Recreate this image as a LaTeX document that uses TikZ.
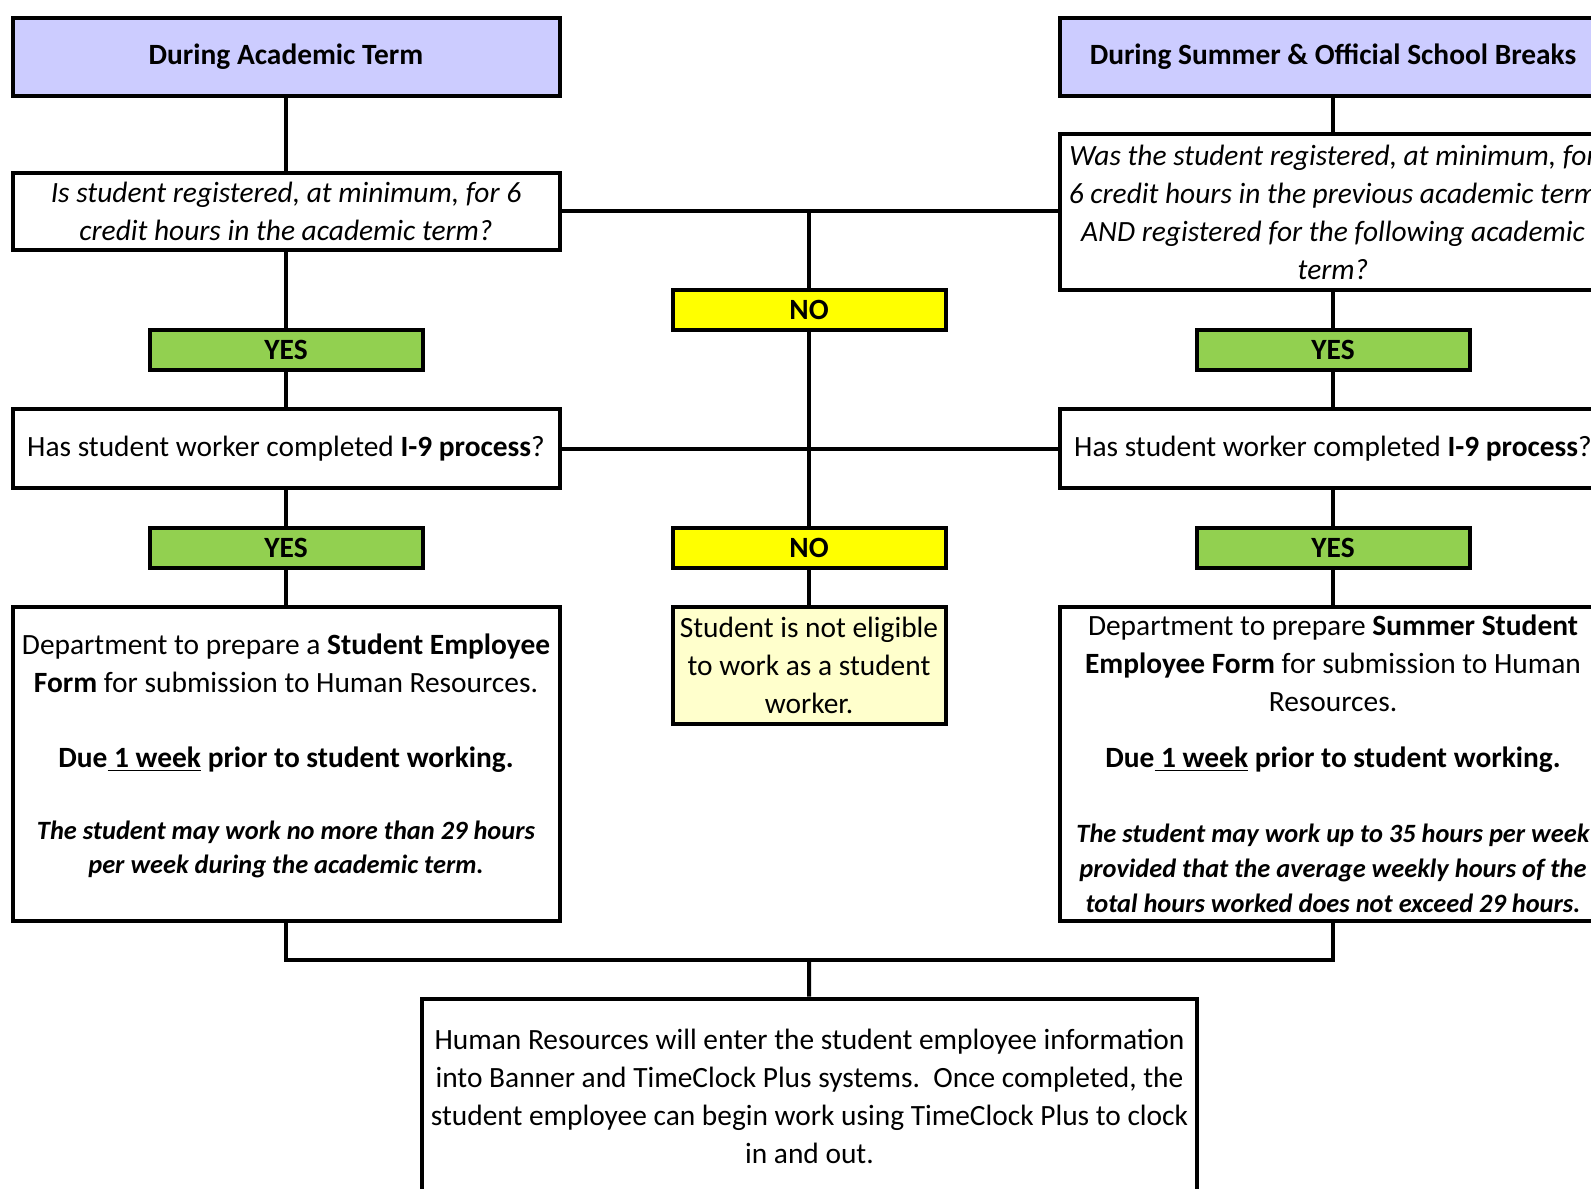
\documentclass[tikz,border=0pt]{standalone}
\usepackage{fontspec}
\setmainfont{Carlito}
\usetikzlibrary{positioning}
\definecolor{hdrblue}{HTML}{CCCCFF}
\definecolor{yesgreen}{HTML}{92D050}
\definecolor{noyellow}{HTML}{FFFF00}
\definecolor{paleyellow}{HTML}{FFFFCC}
\newcommand{\bodyfont}{\fontsize{14.7}{19}\selectfont}
\newcommand{\notefont}{\fontsize{13.2}{17.3}\selectfont\bfseries\itshape}

\begin{document}
\begin{tikzpicture}[x=0.5pt, y=-0.5pt, line width=2pt,
	box/.style={draw, fill=white, inner sep=0pt, align=center, minimum width=273.5pt, font=\bodyfont},
	hdr/.style={box, fill=hdrblue, minimum height=39pt, font=\bodyfont\bfseries},
	tag/.style={box, minimum width=136.5pt, minimum height=20pt, font=\bodyfont\bfseries},
	yesbox/.style={tag, fill=yesgreen},
	nobox/.style={tag, fill=noyellow}]
	\useasboundingbox (0,0) rectangle (1591,1189);
	\clip (0,0) rectangle (1591,1189);
	
	% headers
	\node[hdr] (hdrL) at (286, 57) {During Academic Term};
	\node[hdr] (hdrR) at (1333, 57) {During Summer \& Official School Breaks};
	
	% credit hours
	\node[box, minimum height=38.5pt, font=\bodyfont\itshape] (qL) at (286, 211)
		{Is student registered, at minimum, for 6\\ credit hours in the academic term?};
	\node[box, minimum height=78pt, font=\bodyfont\itshape] (qR) at (1333, 212)
		{Was the student registered, at minimum, for\\ 6 credit hours in the previous academic term\\
		 AND registered for the following academic\\ term?};
	
	\node[nobox] (no1) at (809, 310) {NO};
	\node[yesbox] (yes1L) at (286, 350) {YES};
	\node[yesbox] (yes1R) at (1333, 350) {YES};
	
	% I-9
	\node[box, minimum height=39.5pt] (i9L) at (286, 448.5) {Has student worker completed \textbf{I-9 process}?};
	\node[box, minimum height=39.5pt] (i9R) at (1333, 448.5) {Has student worker completed \textbf{I-9 process}?};
	
	\node[yesbox] (yes2L) at (286, 547.5) {YES};
	\node[nobox] (no2) at (809, 547.5) {NO};
	\node[yesbox] (yes2R) at (1333, 547.5) {YES};
	
	% forms
	\node[box, minimum height=157pt] (formL) at (286, 763.5)
		{Department to prepare a \textbf{Student Employee}\\ \textbf{Form} for submission to Human Resources.\\[18.5pt]
		 {\bfseries Due\underline{ 1 week} prior to student working.}\\[17pt]
		 {\notefont The student may work no more than 29 hours}\\[-2.3pt]
		 {\notefont per week during the academic term.}\\[-9pt]};
	\node[box, fill=paleyellow, minimum width=136.5pt, minimum height=58.5pt] (notelig) at (809, 665)
		{Student is not eligible\\ to work as a student\\ worker.};
	\node[box, minimum height=157pt] (formR) at (1333, 763.5)
		{Department to prepare \textbf{Summer Student}\\ \textbf{Employee Form} for submission to Human\\ Resources.\\[9pt]
		 {\bfseries Due\underline{ 1 week} prior to student working.}\\[18.5pt]
		 {\notefont The student may work up to 35 hours per week}\\[-1.5pt]
		 {\notefont provided that the average weekly hours of the}\\[-1.5pt]
		 {\notefont total hours worked does not exceed 29 hours.}};
	
	% human resources
	\node[box, minimum width=387.5pt, minimum height=97.5pt] (hr) at (809.5, 1096)
		{Human Resources will enter the student employee information\\
		 into Banner and TimeClock Plus systems.\ \ Once completed, the\\
		 student employee can begin work using TimeClock Plus to clock\\ in and out.};
	
	% connectors
	\foreach \c in {L, R}{
		\draw (hdr\c) -- (q\c) -- (yes1\c) -- (i9\c) -- (yes2\c) -- (form\c);
	}
	\draw (qL.east) -- (qL.east -| qR.west);
	\draw (no1) -- (no1 |- qL.east);
	\draw (i9L.east) -- (i9L.east -| i9R.west);
	\draw (no1) -- (no2) -- (notelig);
	
	\coordinate (join) at (809, 960);
	\draw (formL.south) |- (join) -| (formR.south);
	\draw (join) -- (hr);
\end{tikzpicture}
\end{document}
